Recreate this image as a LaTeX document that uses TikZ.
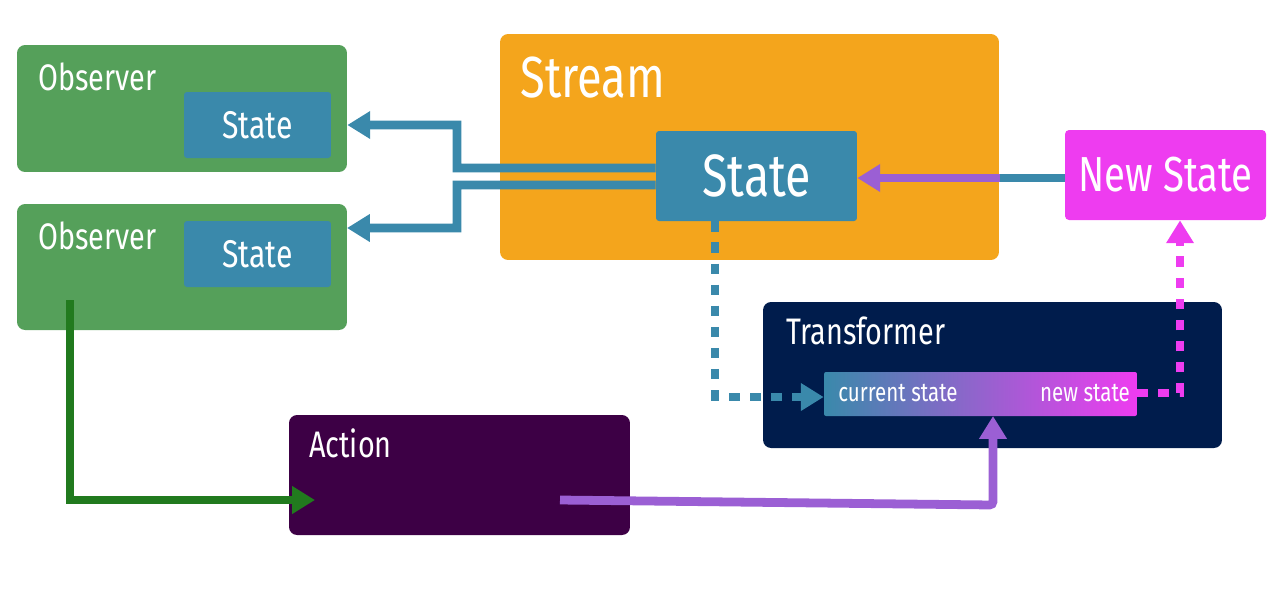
\documentclass[tikz,border=0pt]{standalone}
\usepackage{fontspec}
\setmainfont{Fira Sans}[FakeStretch=0.78]
\usetikzlibrary{arrows.meta}
\definecolor{grn}{HTML}{55A05A}
\definecolor{blu}{HTML}{3A89AB}
\definecolor{org}{HTML}{F4A51C}
\definecolor{mag}{HTML}{EE3CF0}
\definecolor{nav}{HTML}{001C4C}
\definecolor{act}{HTML}{3D0045}
\definecolor{dgr}{HTML}{217A1E}
\definecolor{pur}{HTML}{9B5FD4}
\begin{document}
\begin{tikzpicture}[x=0.02cm,y=-0.02cm,
 box/.style={rounded corners=0.16cm,inner sep=0,draw=none},
 sbox/.style={rounded corners=0.06cm,inner sep=0,fill=blu,text=white},
 lbl/.style={anchor=base west,text=white,inner sep=0,font=\fontsize{21}{21}\selectfont},
 con/.style={line width=5pt,-{Triangle[length=13pt,width=15pt]}},
 dsh/.style={con,dash pattern=on 6pt off 6pt}]
\useasboundingbox (0,0) rectangle (1280,600);
\node[box,fill=grn,minimum width=6.6cm,minimum height=2.54cm] (o1) at (182,108.5) {};
\node[sbox,minimum width=2.94cm,minimum height=1.32cm,font=\fontsize{22}{22}\selectfont] (s1) at (257.5,125) {State};
\node[lbl] (l1) at (38,90) {Observer};
\node[box,fill=grn,minimum width=6.6cm,minimum height=2.52cm] (o2) at (182,267) {};
\node[sbox,minimum width=2.94cm,minimum height=1.32cm,font=\fontsize{22}{22}\selectfont] (s2) at (257.5,254) {State};
\node[lbl] (l2) at (38,249) {Observer};
\node[box,fill=org,minimum width=9.98cm,minimum height=4.52cm] (st) at (749.5,147) {};
\node[lbl,font=\fontsize{33}{33}\selectfont] (l3) at (520,97) {Stream};
\node[sbox,minimum width=4.02cm,minimum height=1.8cm,font=\fontsize{34}{34}\selectfont] (ss) at (756.5,176) {State};
\node[box,rounded corners=0.08cm,fill=mag,text=white,minimum width=4.02cm,minimum height=1.8cm,font=\fontsize{28}{28}\selectfont] (ns) at (1165.5,175) {New State};
\node[box,fill=nav,minimum width=9.18cm,minimum height=2.92cm] (tr) at (992.5,375) {};
\node[lbl] (l4) at (786,344) {Transformer};
\node[box,rounded corners=0.04cm,left color=blu,right color=mag,minimum width=6.26cm,minimum height=0.88cm] (bar) at (980.5,394) {};
\node[text=white,font=\fontsize{15}{15}\selectfont,inner sep=0] (cs) at (898,393) {current state};
\node[text=white,font=\fontsize{15}{15}\selectfont,inner sep=0] (nst) at (1085,393) {new state};
\node[box,fill=act,minimum width=6.82cm,minimum height=2.4cm] (ac) at (459.5,475) {};
\node[lbl] (l5) at (309,457) {Action};
\coordinate (c2) at (347,228);
\coordinate (g0) at (70,300);
\coordinate (p0) at (560,500);
\draw[con,blu] ([yshift=0.16cm]ss.west) -- (457,168) |- (o1.east|-s1);
\draw[con,blu] ([yshift=-0.18cm]ss.west) -- (457,185) |- (c2);
\draw[con,draw=pur,fill=blu,line width=5pt] (ns.west|-178,178) -- (ss.east|-178,178);
\draw[con,blu,-] (ns.west|-178,178) -- (1000,178);
\draw[dsh,blu] (ss.south-|715,0) -- (715,397) -- (bar.west|-397,397);
\draw[dsh,mag] (bar.east|-393,393) -- (1180,393) -- (ns.south-|1180,0);
\draw[con,dgr] (g0) |- (315,500);
\draw[con,pur,rounded corners=2pt] (p0) -- (993,505) -- (993,416);
\end{tikzpicture}
\end{document}
